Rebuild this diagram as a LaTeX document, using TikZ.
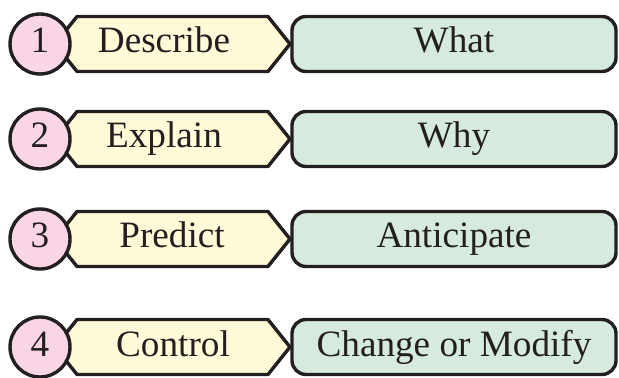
\documentclass[tikz,border=0pt]{standalone}
\usepackage{fontspec}
\setmainfont{Liberation Serif}
\definecolor{numpink}{RGB}{249,213,229}
\definecolor{verbyellow}{RGB}{255,250,215}
\definecolor{askgreen}{RGB}{214,235,221}
\definecolor{inkdark}{RGB}{35,31,32}
\begin{document}
\begin{tikzpicture}[x=0.5pt, y=-0.5pt, line width=1.7pt, line join=round, draw=inkdark,
  numcirc/.style={circle, draw=inkdark, fill=numpink, minimum size=30pt, inner sep=0pt},
  askbox/.style={rectangle, rounded corners=7pt, draw=inkdark, fill=askgreen, minimum width=162pt, minimum height=27.5pt, inner sep=0pt},
  lbl/.style={font=\fontsize{18.6}{21}\selectfont, text=inkdark, text height=13pt, text depth=4pt}]
\useasboundingbox (0,0) rectangle (619,378);
\foreach \n/\y/\tx/\vb/\ask in {1/44/164/Describe/What, 2/139/164/Explain/Why, 3/239/172/Predict/Anticipate, 4/347/173/Control/Change or Modify}{
  % verb arrow
  \draw[fill=verbyellow] (55,\y) -- (77,\y-27.5) -- (268,\y-27.5) -- (290,\y) -- (268,\y+27.5) -- (77,\y+27.5) -- cycle;
  \node[lbl] (v\n) at (\tx,\y) {\vb};
  \node[askbox, lbl] (a\n) at (454,\y) {\ask};
  \node[numcirc, lbl] (c\n) at (40,\y) {\n};
}
\end{tikzpicture}
\end{document}
